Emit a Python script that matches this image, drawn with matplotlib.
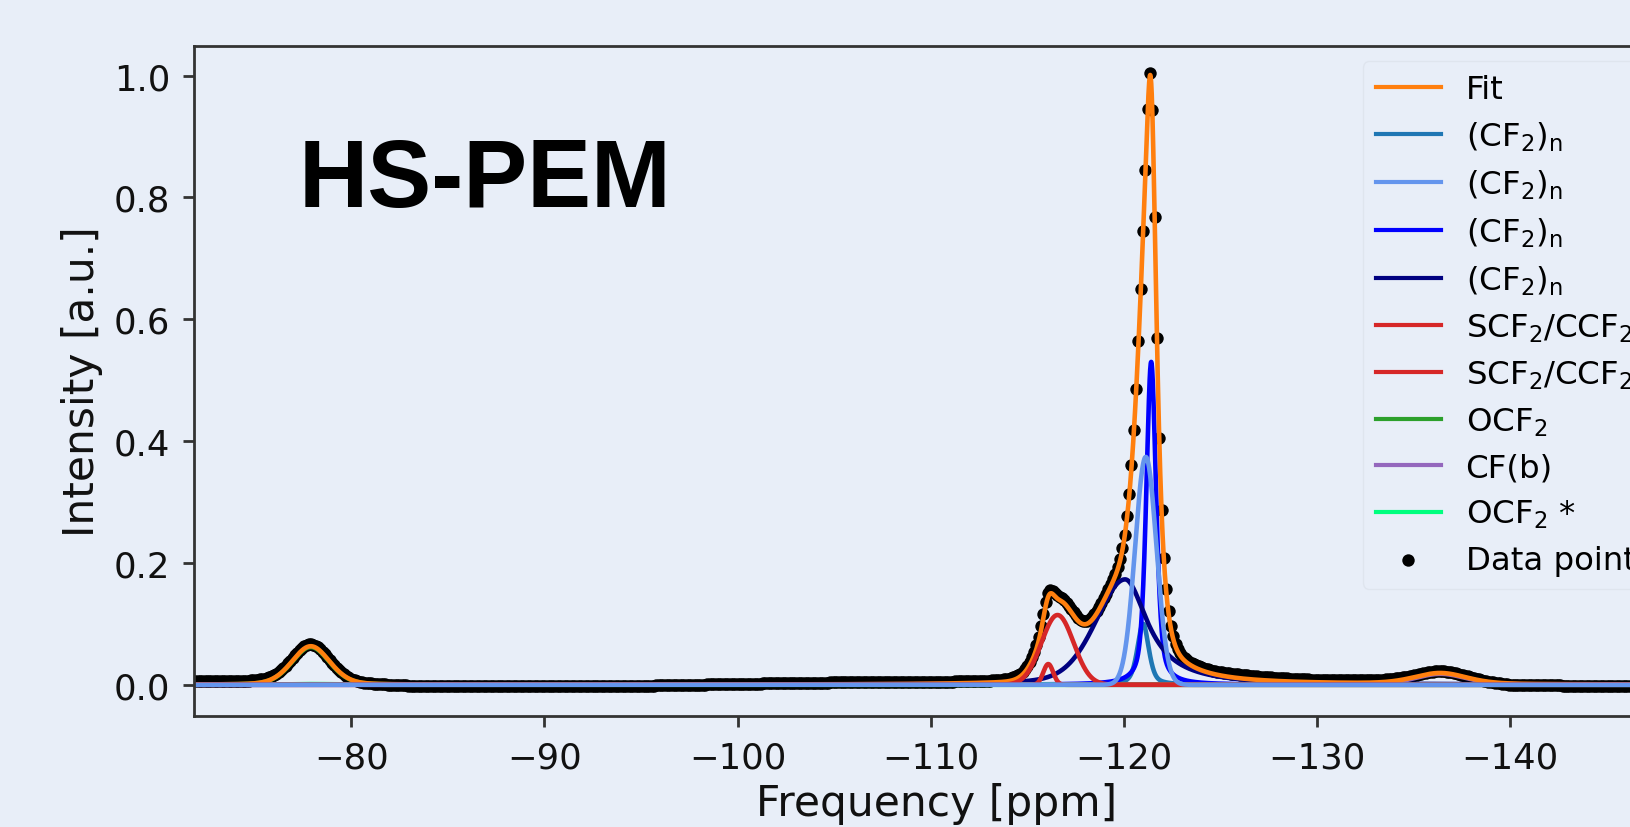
import numpy as np
import matplotlib
matplotlib.use("Agg")
import matplotlib.pyplot as plt

# ---------------- data ----------------
# fitted components: label, colour, centre [ppm], height, FWHM on the
# high-ppm side, FWHM on the low-ppm side, Lorentz fraction high / low side
comp_labels = ["(CF$_2$)$_\\mathrm{n}$", "(CF$_2$)$_\\mathrm{n}$", "(CF$_2$)$_\\mathrm{n}$",
               "(CF$_2$)$_\\mathrm{n}$", "SCF$_2$/CCF$_2$", "SCF$_2$/CCF$_2$",
               "OCF$_2$", "CF(b)", "OCF$_2$ *"]
comp_colors = ["#1f77b4", "#6495ED", "#0000FF", "#000080",
               "#d62728", "#d62728", "#2ca02c", "#9467bd", "#00FF7F"]
comp_center = [-121.00, -121.14, -121.42, -120.07, -116.57, -116.09, -77.90, -136.40, -78.00]
comp_height = [0.100, 0.374, 0.530, 0.173, 0.1145, 0.034, 0.062, 0.018, 0.0012]
comp_fwhm_hi = [0.70, 1.30, 0.60, 3.60, 1.95, 0.60, 2.30, 3.20, 3.00]
comp_fwhm_lo = [0.70, 1.30, 0.60, 2.82, 1.95, 0.60, 2.30, 3.20, 3.00]
comp_eta_hi = [0.5, 0.0, 0.5, 0.3, 0.0, 0.0, 0.2, 0.3, 0.0]
comp_eta_lo = [0.5, 0.0, 0.5, 1.0, 0.0, 0.0, 0.2, 0.3, 0.0]
comp_z = [2.00, 2.50, 2.05, 2.10, 2.35, 2.40, 2.15, 2.20, 2.25]

# measured-minus-fit baseline offset of the data points
base_ppm = [-70, -76, -80.5, -83, -90, -95, -100, -105, -110, -113,
            -116, -119, -123, -126, -130, -134, -138, -140, -150]
base_off = [0.006, 0.005, 0.001, -0.002, -0.003, -0.002, 0.001, 0.003, 0.003, 0.003,
            0.006, 0.004, 0.004, 0.006, 0.004, 0.004, 0.002, -0.002, -0.003]

data_start, data_stop, data_step = -70.0, -150.0, 0.12   # ppm sampling of the spectrum

xticks = [-80, -90, -100, -110, -120, -130, -140]
yticks = [0.0, 0.2, 0.4, 0.6, 0.8, 1.0]


def pseudo_voigt(x, c, h, w_hi, w_lo, e_hi, e_lo):
    w = np.where(x > c, w_hi, w_lo)
    e = np.where(x > c, e_hi, e_lo)
    d = (x - c) / w
    g = np.exp(-4 * np.log(2) * d ** 2)
    lor = 1.0 / (1.0 + 4 * d ** 2)
    return h * (e * lor + (1 - e) * g)


def components(x):
    return [pseudo_voigt(x, c, h, a, b, e1, e2)
            for c, h, a, b, e1, e2 in zip(comp_center, comp_height, comp_fwhm_hi,
                                         comp_fwhm_lo, comp_eta_hi, comp_eta_lo)]


x_fine = np.linspace(-70, -150, 6000)
x_data = np.arange(data_start, data_stop, -data_step)

comps_fine = components(x_fine)
fit_fine = np.sum(comps_fine, axis=0)
fit_data = np.sum(components(x_data), axis=0)
y_data = fit_data + np.interp(x_data, base_ppm[::-1], base_off[::-1])

# ---------------- figure ----------------
bg = "#E8EEF8"
fig = plt.figure(figsize=(16.31, 8.28), dpi=100, facecolor=bg)
ax = fig.add_axes([0.1189, 0.1335, 0.9111, 0.8101], facecolor=bg)

lw = 3.3
ax.plot(x_fine, fit_fine, color="#ff7f0e", lw=lw, label="Fit", zorder=2.3)
for yv, lab, col, z in zip(comps_fine, comp_labels, comp_colors, comp_z):
    ax.plot(x_fine, yv, color=col, lw=lw, label=lab, zorder=z)
ax.scatter(x_data, y_data, s=80, color="black", linewidths=0, label="Data points", zorder=1)

ax.set_xlim(-71.85, -148.8)
ax.set_ylim(-0.052, 1.049)
ax.set_xticks(xticks)
ax.set_yticks(yticks)
ax.yaxis.set_major_formatter(matplotlib.ticker.FormatStrFormatter("%.1f"))

for s in ax.spines.values():
    s.set_linewidth(2.0)
    s.set_color("#333333")
ax.tick_params(axis="both", length=8, width=2.0, pad=9, labelsize=25.5,
               color="#333333", labelcolor="#111111")

ax.set_xlabel("Frequency [ppm]", fontsize=30.5, labelpad=6, color="#111111")
ax.set_ylabel("Intensity [a.u.]", fontsize=30.5, labelpad=8, color="#111111")

leg = ax.legend(loc="upper left", bbox_to_anchor=(0.7867, 0.977), borderaxespad=0,
                fontsize=23.3, labelspacing=0.45, handletextpad=0.77,
                frameon=True, facecolor=bg, edgecolor="#dde3ec", framealpha=0.8)
for lh in leg.get_lines():
    lh.set_linewidth(3.0)

fig.text(0.1833, 0.75, "HS-PEM", fontsize=69, fontweight="bold",
         family=["Liberation Sans", "DejaVu Sans"], va="baseline", ha="left",
         color="black")

fig.savefig("out.png", dpi=100, facecolor=bg)
